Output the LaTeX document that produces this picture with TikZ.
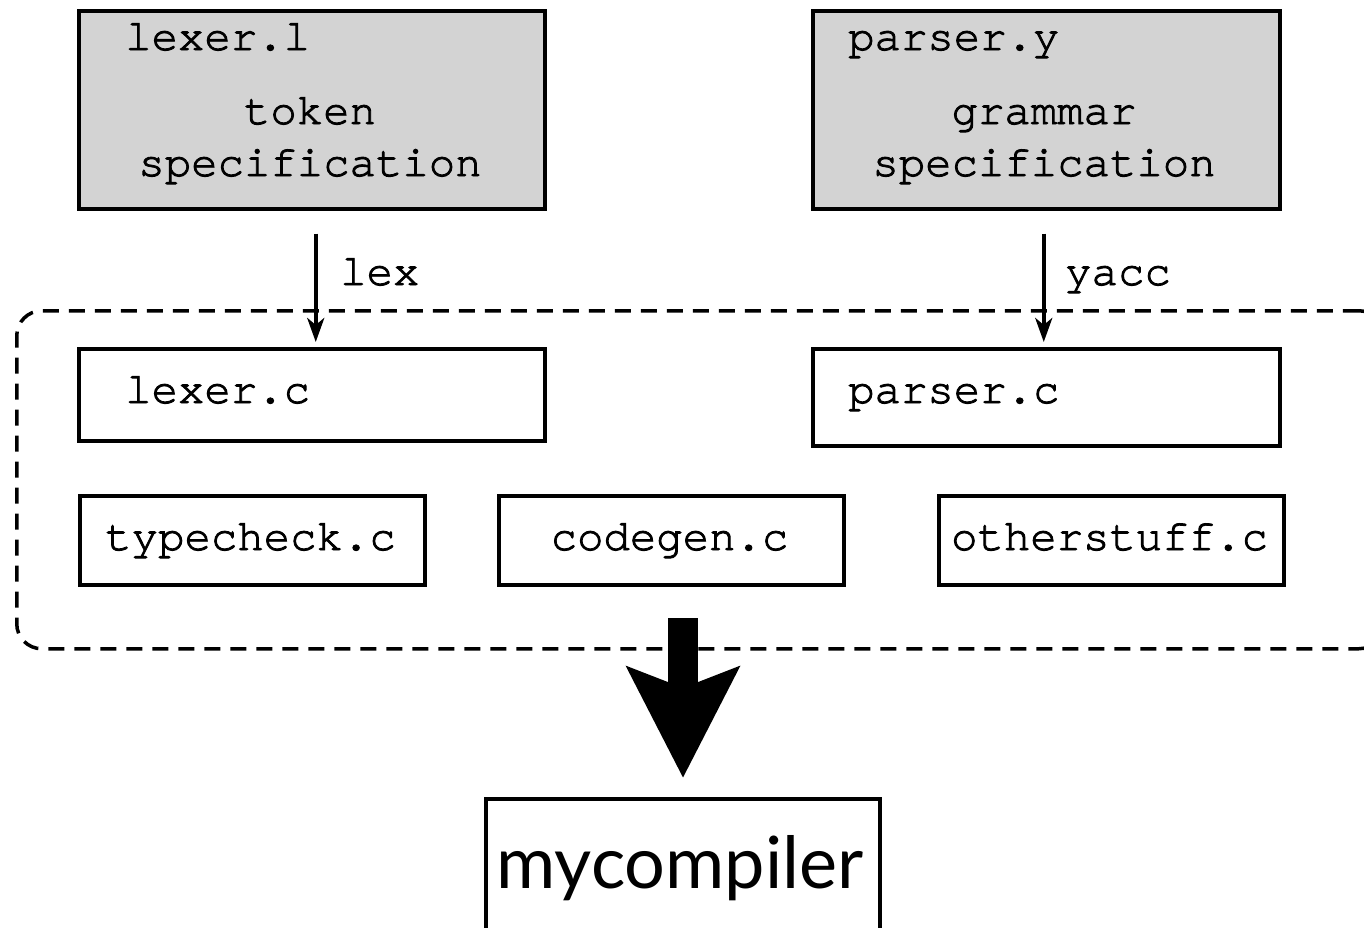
\documentclass[tikz,border=0pt]{standalone}
\usepackage{fontspec}
\newfontfamily\gillfont{Lato}
\newfontfamily\courierbase[FakeBold=2.0,Ligatures={NoCommon,NoRequired,NoContextual}]{TeX Gyre Cursor}
\usetikzlibrary{arrows.meta}
\definecolor{specgray}{RGB}{211,211,211}
\newcommand{\courierfont}{\courierbase\fontsize{44}{44}\selectfont}
\begin{document}
\begin{tikzpicture}[x=1pt,y=-1pt,
  box/.style={draw=black, line width=3.5pt, inner sep=0pt, anchor=north west},
  specbox/.style={box, fill=specgray},
  txt/.style={inner sep=0pt, font=\courierfont},
  conn/.style={line width=4pt, -{Stealth[length=24pt,width=17pt,inset=7pt]}},
  bigconn/.style={line width=30pt, -{Stealth[length=110pt,width=110pt,inset=20pt]}},
  group/.style={draw=black, line width=3.5pt, dash pattern=on 16pt off 10pt, rounded corners=25pt}
]
\useasboundingbox (0,0) rectangle (1364,927);
\clip (0,0) rectangle (1364,927);

% grey source files
\node[specbox, minimum width=466pt, minimum height=198pt] (lexl) at (77,9) {};
\node[specbox, minimum width=467pt, minimum height=198pt] (pary) at (811,9) {};
\node[txt, anchor=base west] (lexltxt) at (125,50) {lexer.l};
\node[txt, anchor=base] (tokentxt) at (310,124) {token};
\node[txt, anchor=base] (lexspec) at (310,176) {specification};
\node[txt, anchor=base west] (parytxt) at (848,50) {parser.y};
\node[txt, anchor=base] (gramtxt) at (1044,124) {grammar};
\node[txt, anchor=base] (parspec) at (1044,176) {specification};

% dashed group
\node[group, inner sep=0pt, anchor=north west, minimum width=1367pt, minimum height=338pt] (grp) at (15,309) {};

% generated / source C files
\node[box, minimum width=466pt, minimum height=92pt] (lexc) at (77,347) {};
\node[box, minimum width=467pt, minimum height=97pt] (parc) at (811,347) {};
\node[txt, anchor=base west] (lexctxt) at (125,403) {lexer.c};
\node[txt, anchor=base west] (parctxt) at (848,403) {parser.c};

\node[box, minimum width=345pt, minimum height=89pt] (tc) at (78,494) {};
\node[box, minimum width=345pt, minimum height=89pt] (cg) at (497,494) {};
\node[box, minimum width=345pt, minimum height=89pt] (os) at (937,494) {};
\node[txt, anchor=base] (tctxt) at (250.5,550) {typecheck.c};
\node[txt, anchor=base] (cgtxt) at (669.5,550) {codegen.c};
\node[txt, anchor=base] (ostxt) at (1109.5,550) {otherstuff.c};

% output
\node[box, minimum width=394pt, minimum height=150pt] (mc) at (484,797) {};
\node[inner sep=0pt, anchor=base, font=\gillfont\fontsize{72}{72}\selectfont] (mctxt) at (680,888) {mycompiler};

% connectors
\draw[conn, shorten <=23pt, shorten >=5pt] ([xshift=4pt]lexl.south) -- ([xshift=4pt]lexc.north);
\node[txt, anchor=base west] (lexlbl) at (340,285) {lex};
\draw[conn, shorten <=23pt, shorten >=5pt] ([xshift=-2.5pt]pary.south) -- ([xshift=-2.5pt]parc.north);
\node[txt, anchor=base west] (yacclbl) at (1065,285) {yacc};

\coordinate (bigstart) at (683,618);
\draw[bigconn, shorten >=19pt] (bigstart) -- (bigstart |- mc.north);
\end{tikzpicture}
\end{document}
